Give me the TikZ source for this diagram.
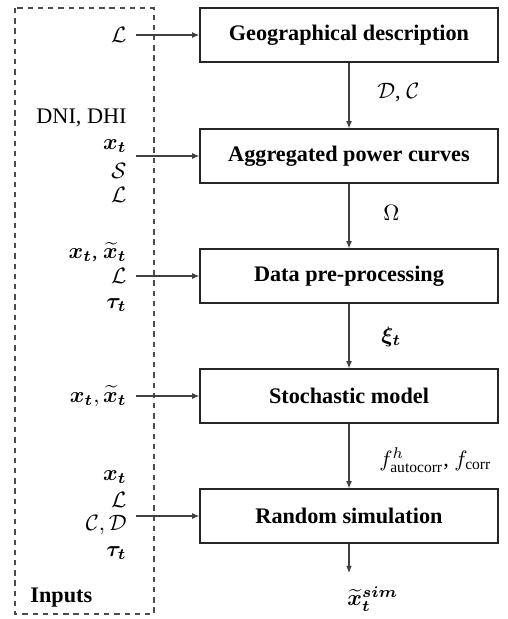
\documentclass[tikz,border=0pt]{standalone}
\usepackage{amsmath}
\usepackage{amssymb}
\usepackage{bm}
\usepackage{fontspec}
\setmainfont{Liberation Serif}
\usetikzlibrary{arrows.meta}

\begin{document}
\begin{tikzpicture}[x=0.45pt,y=-0.45pt,
  stage/.style={draw=black!85, line width=0.6pt, minimum width=134.1pt,
    minimum height=24.3pt, inner sep=0pt, font=\bfseries},
  flow/.style={draw=black!75, line width=0.5pt,
    -{Latex[length=3.2pt,width=2.6pt]}},
  inlabel/.style={anchor=east, inner sep=0pt},
  edgelabel/.style={anchor=west, inner sep=0pt},
  inputbox/.style={draw=black!70, line width=0.5pt,
    dash pattern=on 2.4pt off 2.2pt}]

\useasboundingbox (0,0) rectangle (507,619);

% dashed frame holding all inputs
\draw[inputbox] (15,8) rectangle (154,614);
\node[anchor=west, inner sep=0pt, font=\bfseries] (inputs) at (30,598) {Inputs};

% processing stages
\node[stage] (geo) at (349,35)  {Geographical description};
\node[stage] (apc) at (349,156) {Aggregated power curves};
\node[stage] (dpp) at (349,276) {Data pre-processing};
\node[stage] (sto) at (349,396) {Stochastic model};
\node[stage] (rnd) at (349,516) {Random simulation};

% inputs of each stage
\node[inlabel] (l1) at (127,35) {$\mathcal{L}$};

\node[inlabel] (i2a) at (127,118) {DNI, DHI};
\node[inlabel] (i2b) at (127,146) {$\bm{x_t}$};
\node[inlabel] (i2c) at (127,171) {$\mathcal{S}$};
\node[inlabel] (i2d) at (127,195) {$\mathcal{L}$};

\node[inlabel] (i3a) at (127,252) {$\bm{x_t}$, $\bm{\widetilde{x}_t}$};
\node[inlabel] (i3b) at (127,276) {$\mathcal{L}$};
\node[inlabel] (i3c) at (127,305) {$\bm{\tau_t}$};

\node[inlabel] (i4a) at (127,396) {$\bm{x_t}, \bm{\widetilde{x}_t}$};

\node[inlabel] (i5a) at (127,477) {$\bm{x_t}$};
\node[inlabel] (i5b) at (127,500) {$\mathcal{L}$};
\node[inlabel] (i5c) at (127,525) {$\mathcal{C}, \mathcal{D}$};
\node[inlabel] (i5d) at (127,553) {$\bm{\tau_t}$};

% arrow origins inside the frame
\coordinate (s1) at (136,35);
\coordinate (s2) at (136,156);
\coordinate (s3) at (136,276);
\coordinate (s4) at (136,396);
\coordinate (s5) at (136,516);

\draw[flow] (s1) -- (geo.west);
\draw[flow] (s2) -- (apc.west);
\draw[flow] (s3) -- (dpp.west);
\draw[flow] (s4) -- (sto.west);
\draw[flow] (s5) -- (rnd.west);

% flow between stages
\draw[flow] (geo.south) -- (apc.north);
\draw[flow] (apc.south) -- (dpp.north);
\draw[flow] (dpp.south) -- (sto.north);
\draw[flow] (sto.south) -- (rnd.north);

\coordinate (out) at (349,573);
\draw[flow] (rnd.south) -- (out);

% quantities passed along
\node[edgelabel] (e1) at (377,93)  {$\mathcal{D}$, $\mathcal{C}$};
\node[edgelabel] (e2) at (383,213) {$\Omega$};
\node[edgelabel] (e3) at (381,337) {$\bm{\xi_t}$};
\node[edgelabel] (e4) at (379,460) {$f^h_{\text{autocorr}}$, $f_{\text{corr}}$};
\node[anchor=west, inner sep=0pt] (res) at (347,599) {$\bm{\widetilde{x}_t^{sim}}$};

\end{tikzpicture}
\end{document}
